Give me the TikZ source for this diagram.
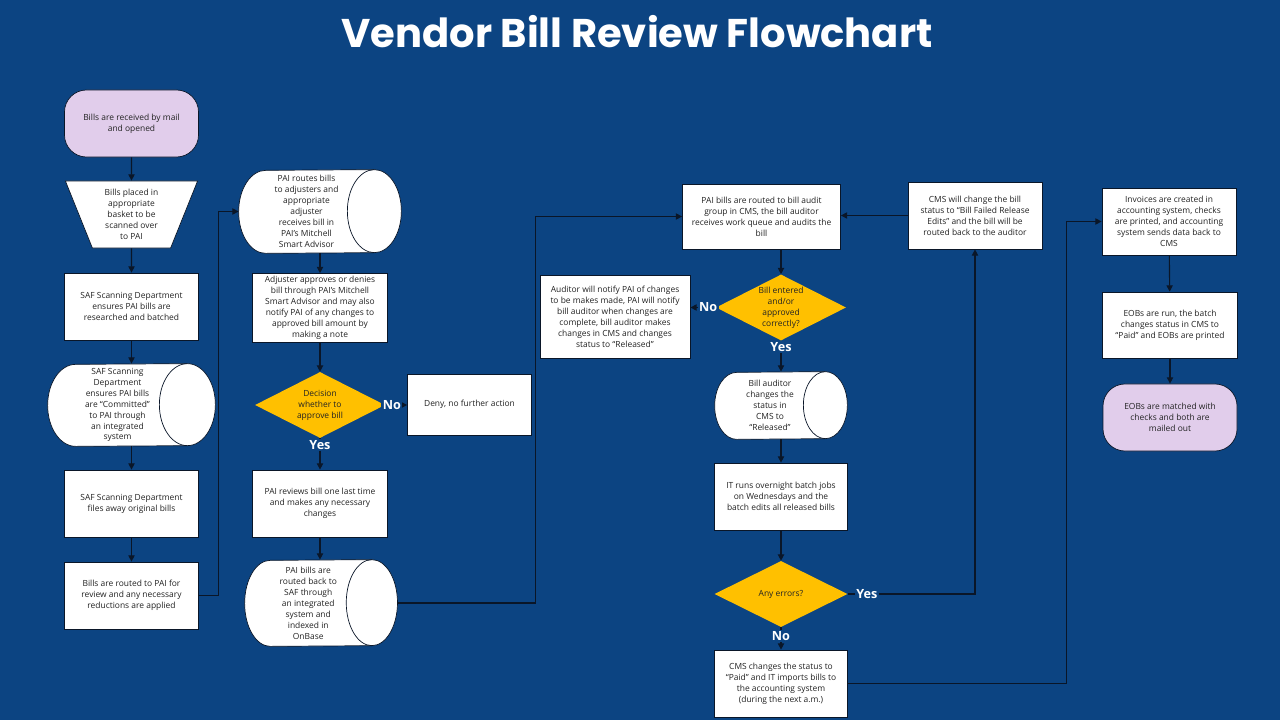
\documentclass[tikz,border=0pt]{standalone}
\usepackage{fontspec}
\setmainfont{Open Sans}
\newfontfamily\titlefont{Poppins}
\usetikzlibrary{shapes.geometric,arrows.meta,backgrounds}
\definecolor{bgblue}{RGB}{12,68,130}
\definecolor{lav}{RGB}{225,205,235}
\definecolor{gold}{RGB}{255,192,0}
\definecolor{linec}{RGB}{10,22,40}
\definecolor{txt}{RGB}{35,35,35}
% lying drum round a text node: #1 node, #2 x radius, #3 y radius
\newcommand\drumpath[3]{%
  \draw[draw=linec,line width=0.5pt,fill=white]
    (#1.north east) arc[start angle=90,end angle=-90,x radius=#2,y radius=#3]
    -- ([xshift=#2]#1.south west) arc[start angle=270,end angle=90,x radius=#2,y radius=#3]
    -- cycle;
  \draw[draw=linec,line width=0.5pt]
    (#1.north east) arc[start angle=90,end angle=270,x radius=#2,y radius=#3];}
\begin{document}
\begin{tikzpicture}[x=0.025cm,y=-0.025cm,
    base/.style={draw=linec,line width=0.5pt,fill=white,text=txt,align=center,
      font=\fontsize{6}{7.8}\selectfont,inner sep=2pt},
    box/.style={base,rectangle,minimum width=3.35cm,minimum height=1.675cm},
    term/.style={base,rectangle,rounded corners=0.55cm,fill=lav,
      minimum width=3.35cm,minimum height=1.675cm},
    trap/.style={base,trapezium,shape border rotate=180,trapezium stretches=true,
      trapezium left angle=70,trapezium right angle=70,
      minimum width=3.325cm,minimum height=1.675cm},
    drum/.style={base,rectangle,draw=none,fill=none,inner sep=0pt},
    dec/.style={diamond,fill=gold,text=txt,align=center,aspect=2,inner sep=0pt,
      font=\fontsize{6}{7.8}\selectfont,minimum width=3.25cm,minimum height=1.65cm},
    lbl/.style={text=white,fill=bgblue,inner sep=1pt,font=\bfseries\fontsize{9}{10}\selectfont},
    arr/.style={draw=linec,line width=0.8pt,-{Triangle[length=4.5pt,width=4.5pt]}}]

    \begin{scope}[on background layer]
      \fill[bgblue] (0,0) rectangle (1280,720);
    \end{scope}
    \useasboundingbox (0,0) rectangle (1280,720);

    \node[text=white,font=\titlefont\bfseries\fontsize{28.5}{34}\selectfont] (title) at (637,32) {Vendor Bill Review Flowchart};

    %first column
    \node[term] (mail) at (131.5,123.5) {Bills are received by mail\\and opened};
    \node[trap] (basket) at (131.5,214.5) {Bills placed in\\appropriate\\basket to be\\scanned over\\to PAI};
    \node[box] (batched) at (131.5,306.5) {SAF Scanning Department\\ensures PAI bills are\\researched and batched};
    \node[drum,minimum width=3.475cm,minimum height=2.05cm] (commit) at (117.5,405) {SAF Scanning\\Department\\ensures PAI bills\\are “Committed”\\to PAI through\\an integrated\\system};
    \node[box] (files) at (131.5,503.5) {SAF Scanning Department\\files away original bills};
    \node[box] (routed) at (131.5,595.5) {Bills are routed to PAI for\\review and any necessary\\reductions are applied};

    %second column
    \node[drum,minimum width=3.375cm,minimum height=2.075cm] (adjcyl) at (306.5,211.5) {PAI routes bills\\to adjusters and\\appropriate\\adjuster\\receives bill in\\PAI’s Mitchell\\Smart Advisor};
    \node[box,minimum width=3.375cm,minimum height=1.7cm] (adjust) at (320,308) {Adjuster approves or denies\\bill through PAI’s Mitchell\\Smart Advisor and may also\\notify PAI of any changes to\\approved bill amount by\\making a note};
    \node[dec] (decide) at (320,405) {Decision\\whether to\\approve bill};
    \node[box,minimum width=3.1cm,minimum height=1.525cm] (deny) at (469.5,404.5) {Deny, no further action};
    \node[box,minimum width=3.375cm] (review) at (320,503.5) {PAI reviews bill one last time\\and makes any necessary\\changes};
    \node[drum,minimum width=3.1625cm,minimum height=2.15cm] (backcyl) at (308.25,603) {PAI bills are\\routed back to\\SAF through\\an integrated\\system and\\indexed in\\OnBase};

    %third column
    \node[box,minimum width=3.95cm,minimum height=1.625cm] (audit) at (761.5,216.5) {PAI bills are routed to bill audit\\group in CMS, the bill auditor\\receives work queue and audits the\\bill};
    \node[dec] (correct) at (781,307.5) {Bill entered\\and/or\\approved\\correctly?};
    \node[box,minimum width=3.75cm,minimum height=2.075cm] (notify) at (615,316.5) {Auditor will notify PAI of changes\\to be makes made, PAI will notify\\bill auditor when changes are\\complete, bill auditor makes\\changes in CMS and changes\\status to “Released”};
    \node[drum,minimum width=2.75cm,minimum height=1.675cm] (relcyl) at (770,405.5) {Bill auditor\\changes the\\status in\\CMS to\\“Released”};
    \node[box,minimum width=3.325cm] (batch) at (781,496.5) {IT runs overnight batch jobs\\on Wednesdays and the\\batch edits all released bills};
    \node[dec,minimum width=3.325cm] (errors) at (781,594) {Any errors?};
    \node[box,minimum width=3.325cm] (paid) at (781,683.5) {CMS changes the status to\\“Paid” and IT imports bills to\\the accounting system\\(during the next a.m.)};

    %fourth column
    \node[box] (fail) at (975,215.5) {CMS will change the bill\\status to “Bill Failed Release\\Edits” and the bill will be\\routed back to the auditor};
    \node[box] (invoice) at (1169,221.5) {Invoices are created in\\accounting system, checks\\are printed, and accounting\\system sends data back to\\CMS};
    \node[box,minimum width=3.375cm,minimum height=1.65cm] (eobrun) at (1170,325) {EOBs are run, the batch\\changes status in CMS to\\“Paid” and EOBs are printed};
    \node[term] (mailed) at (1170,417.5) {EOBs are matched with\\checks and both are\\mailed out};

    %drums go behind their text
    \begin{scope}[on background layer]
      \drumpath{commit}{0.7cm}{1.025cm}
      \drumpath{adjcyl}{0.675cm}{1.0375cm}
      \drumpath{backcyl}{0.64cm}{1.075cm}
      \drumpath{relcyl}{0.55cm}{0.8375cm}
    \end{scope}

    \draw[arr] (mail) -- (basket);
    \draw[arr] (basket) -- (batched);
    \draw[arr] (batched) -- (batched |- commit.north);
    \draw[arr] (files |- commit.south) -- (files);
    \draw[arr] (files) -- (routed);
    \draw[arr] (routed.east) -- ++(20,0) |- (adjcyl.west);

    \draw[arr] (adjust |- adjcyl.south) -- (adjust);
    \draw[arr] (adjust) -- (decide);
    \draw[arr] (decide.east) -- node[lbl,pos=0.3]{No} (decide.east -| deny.west);
    \draw[arr] (decide) -- node[lbl,pos=0.2]{Yes} (review);
    \draw[arr] (review) -- (review |- backcyl.north);
    \draw[arr] ([xshift=0.64cm]backcyl.east) -- ++(138,0) |- (audit.west);

    \draw[arr] (audit.south -| correct.north) -- (correct.north);
    \draw[arr] (correct.west) -- node[lbl,pos=0.3]{No} (correct.west -| notify.east);
    \draw[arr] (correct) -- node[lbl,pos=0.2]{Yes} (correct |- relcyl.north);
    \draw[arr] (batch |- relcyl.south) -- (batch);
    \draw[arr] (batch) -- (errors);
    \draw[arr] (errors) -- node[lbl,pos=0.4]{No} (paid);
    \draw[arr] (errors.east) -| node[lbl,pos=0.075]{Yes} (fail.south);
    \draw[arr] (fail.west) -- (fail.west -| audit.east);
    \draw[arr] (paid.east) -- ++(219,0) |- (invoice.west);

    \draw[arr] (invoice) -- (eobrun);
    \draw[arr] (eobrun) -- (mailed);
\end{tikzpicture}
\end{document}
